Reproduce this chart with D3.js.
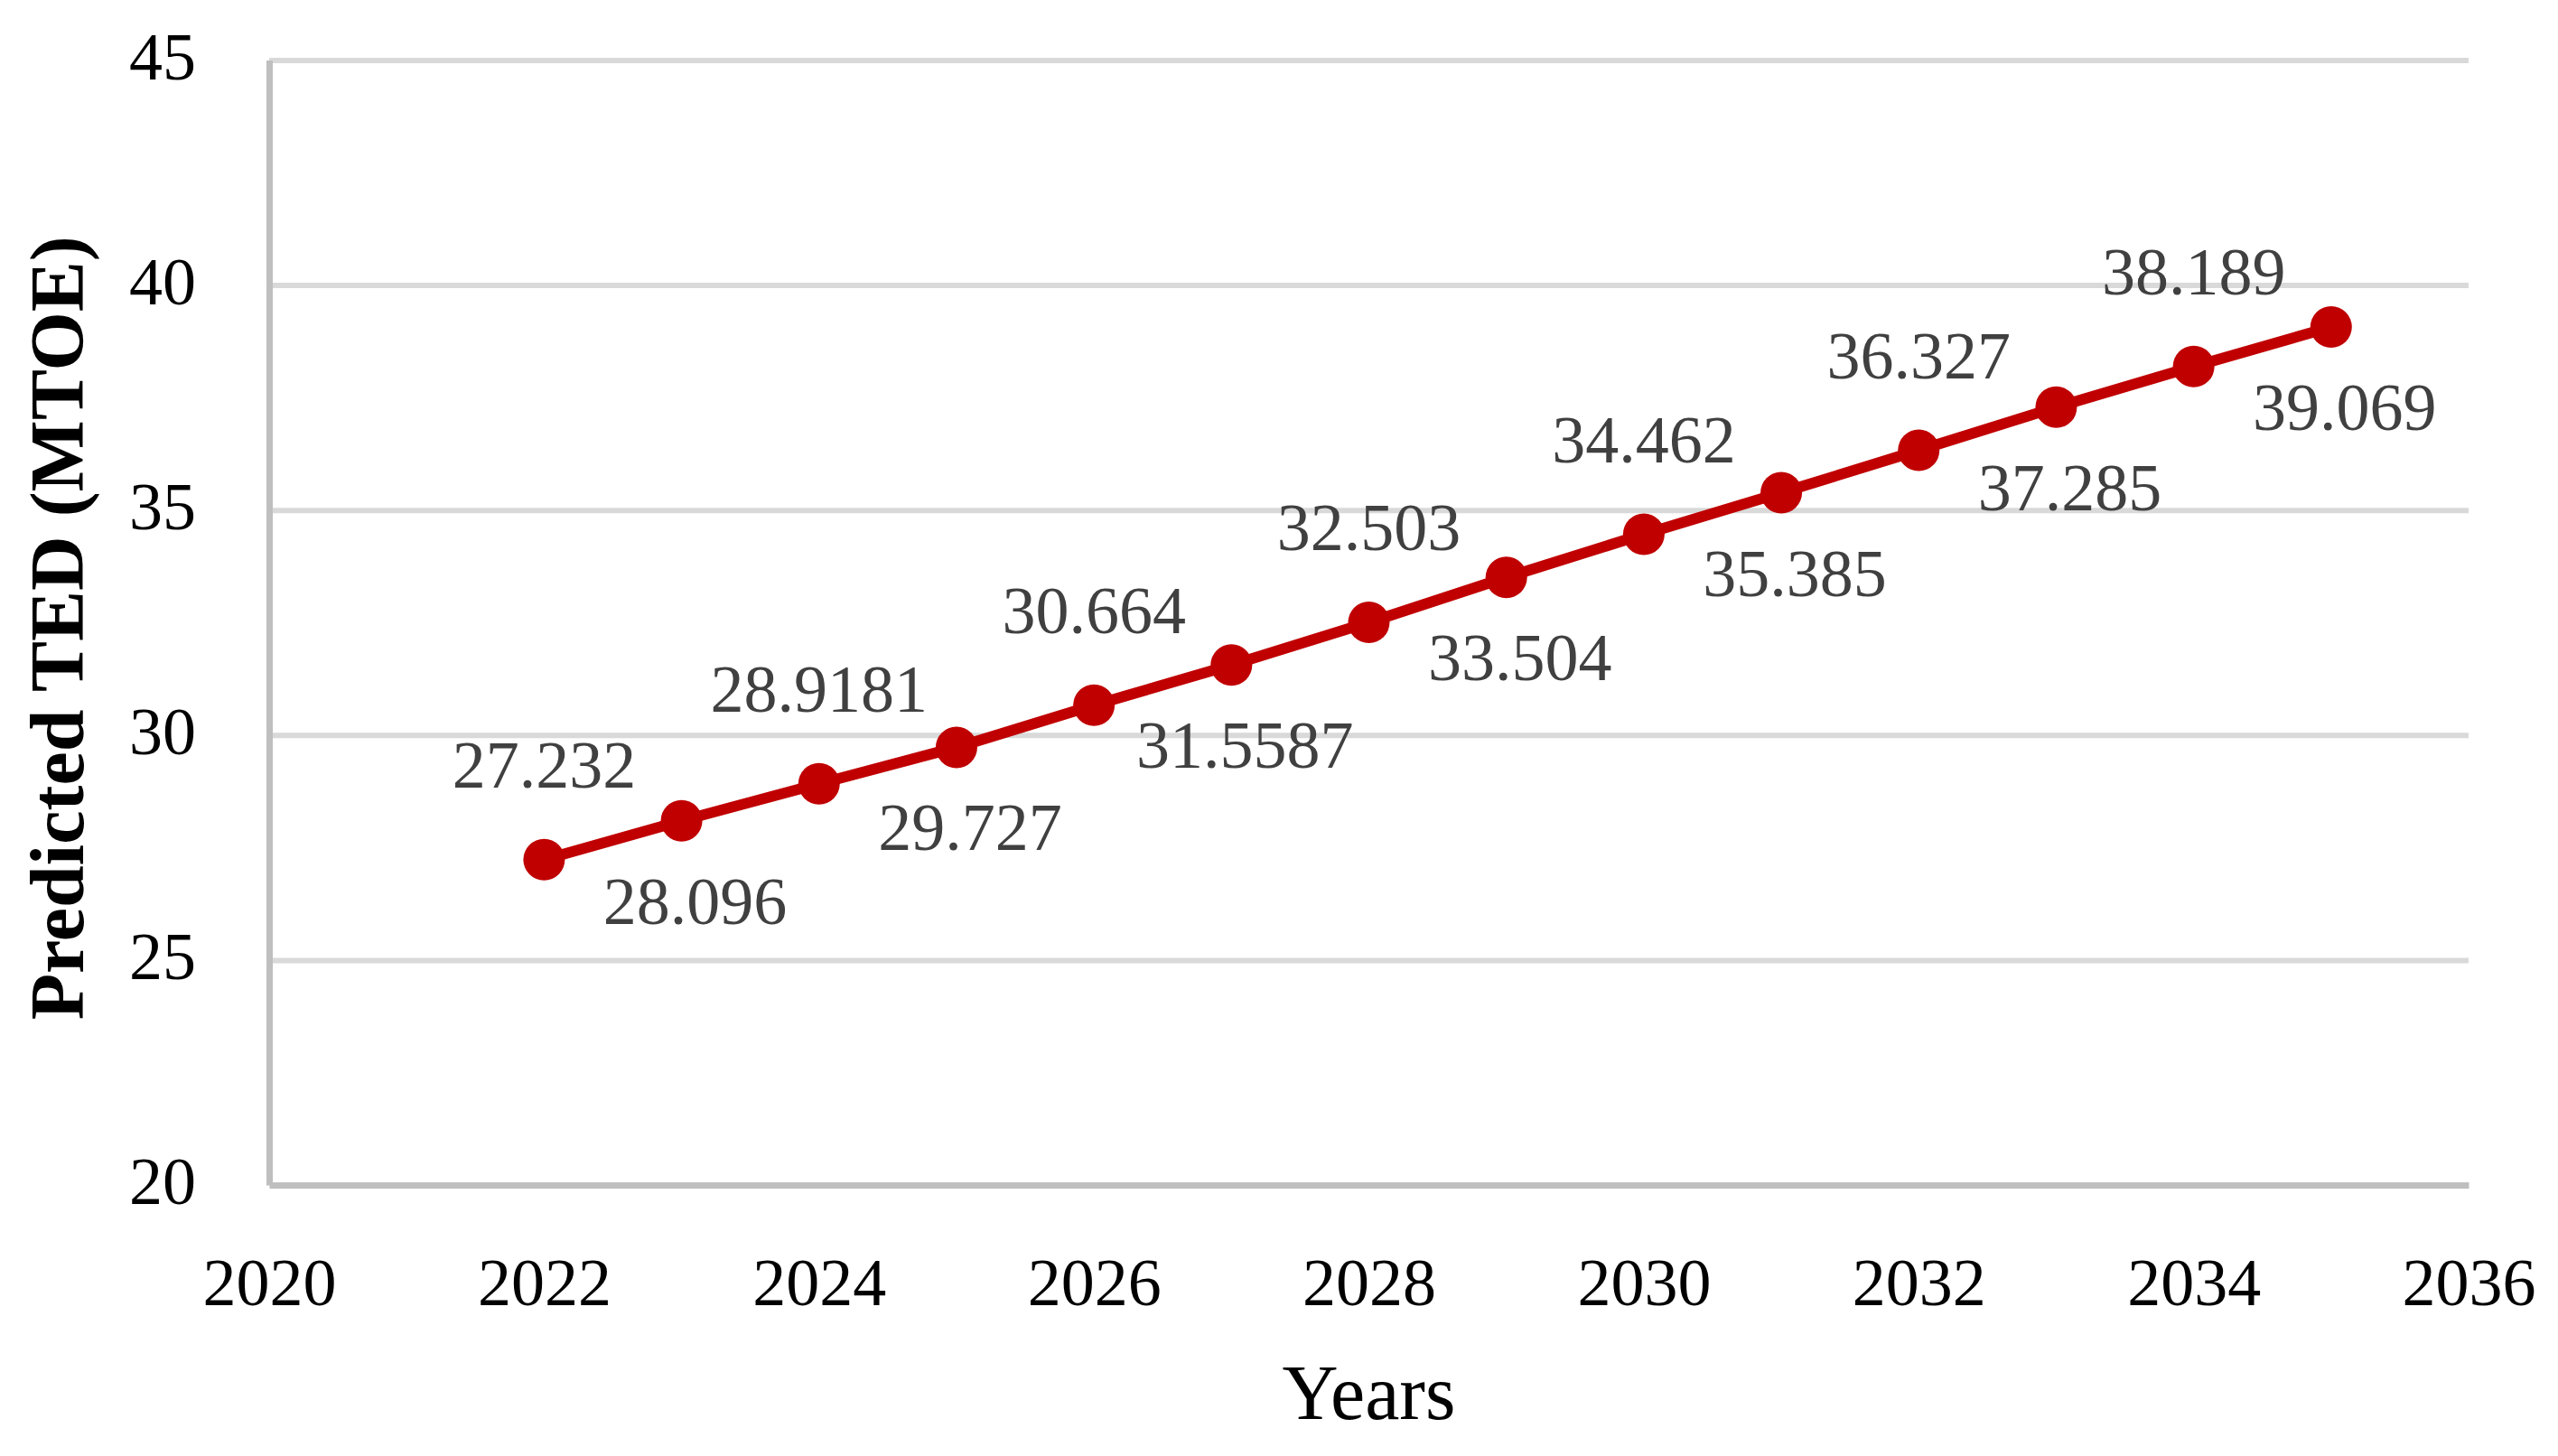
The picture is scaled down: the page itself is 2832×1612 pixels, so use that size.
<!DOCTYPE html>
<html>
<head>
<meta charset="utf-8">
<script src="https://cdn.jsdelivr.net/npm/d3@7"></script>
<style>
  html, body { margin: 0; padding: 0; background: #fff; }
  svg { display: block; }
</style>
</head>
<body>
<svg id="chart" width="2832" height="1612"></svg>
<script>
const years = [2022, 2023, 2024, 2025, 2026, 2027, 2028, 2029, 2030, 2031, 2032, 2033, 2034, 2035];
const values = [27.232, 28.096, 28.9181, 29.727, 30.664, 31.5587, 32.503, 33.504, 34.462, 35.385, 36.327, 37.285, 38.189, 39.069];
const valueLabels = ["27.232", "28.096", "28.9181", "29.727", "30.664", "31.5587", "32.503", "33.504", "34.462", "35.385", "36.327", "37.285", "38.189", "39.069"];
const yTicks = [20, 25, 30, 35, 40, 45];
const gridTicks = [25, 30, 35, 40, 45];
const xTicks = [2020, 2022, 2024, 2026, 2028, 2030, 2032, 2034, 2036];
const yTitle = "Predicted TED (MTOE)";
const xTitle = "Years";

(function () {
const W = 2832, H = 1612;
const pLeft = 298, pRight = 2733, pTop = 66.5, pBottom = 1312;
const font = "'Liberation Serif', 'Times New Roman', serif";

const svg = d3.select("#chart");
svg.append("rect").attr("width", W).attr("height", H).attr("fill", "#fff");

const x = d3.scaleLinear().domain([2020, 2036]).range([pLeft, pRight]);
const y = d3.scaleLinear().domain([20, 45]).range([pBottom, pTop]);

// gridlines
const grid = svg.append("g").attr("transform", `translate(${pLeft},0)`)
  .call(d3.axisLeft(y).tickValues(gridTicks).tickSize(-(pRight - pLeft)).tickFormat(""));
grid.select(".domain").remove();
grid.selectAll("line").attr("stroke", "#d9d9d9").attr("stroke-width", 6);

// y axis
const yAxis = svg.append("g").attr("transform", `translate(${pLeft},0)`)
  .call(d3.axisLeft(y).tickValues(yTicks).tickSize(0).tickSizeOuter(0).tickPadding(81));
yAxis.select(".domain").attr("stroke", "#bfbfbf").attr("stroke-width", 7);
yAxis.selectAll("text").attr("font-family", font).attr("font-size", 74).attr("fill", "#000").attr("dy", "0.28em");

// x axis
const xAxis = svg.append("g").attr("transform", `translate(0,${pBottom})`)
  .call(d3.axisBottom(x).tickValues(xTicks).tickFormat(d3.format("d")).tickSize(0).tickSizeOuter(0).tickPadding(80));
xAxis.select(".domain").attr("stroke", "#bfbfbf").attr("stroke-width", 7);
xAxis.selectAll("text").attr("font-family", font).attr("font-size", 74).attr("fill", "#000");

// series
const data = years.map((yr, i) => ({ yr, v: values[i], label: valueLabels[i], i }));
const line = d3.line().x(d => x(d.yr)).y(d => y(d.v));
svg.append("path").datum(data).attr("d", line)
  .attr("fill", "none").attr("stroke", "#c00000").attr("stroke-width", 12).attr("stroke-linejoin", "round");
svg.append("g").selectAll("circle").data(data).join("circle")
  .attr("cx", d => x(d.yr)).attr("cy", d => y(d.v)).attr("r", 23).attr("fill", "#c00000");

// data labels (alternating above / below)
svg.append("g").selectAll("text").data(data).join("text")
  .attr("x", d => d.i % 2 === 0 ? x(d.yr) : x(d.yr) + 15)
  .attr("y", d => d.i % 2 === 0 ? y(d.v) - 80 : y(d.v) + 114)
  .attr("text-anchor", "middle")
  .attr("font-family", font).attr("font-size", 74).attr("fill", "#404040")
  .text(d => d.label);

// titles
svg.append("text")
  .attr("transform", `translate(92,${(pTop + pBottom) / 2 + 6}) rotate(-90)`)
  .attr("text-anchor", "middle")
  .attr("font-family", font).attr("font-size", 84).attr("font-weight", "bold").attr("fill", "#000")
  .text(yTitle);
svg.append("text")
  .attr("x", (pLeft + pRight) / 2).attr("y", 1571)
  .attr("text-anchor", "middle")
  .attr("font-family", font).attr("font-size", 86).attr("fill", "#000")
  .text(xTitle);
})();
</script>
</body>
</html>
